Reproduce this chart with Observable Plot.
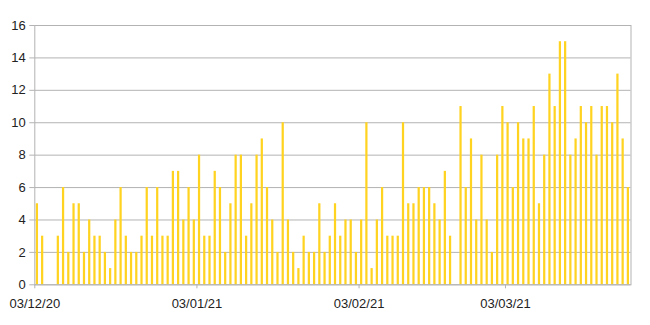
<!DOCTYPE html>
<html>
<head>
<meta charset="utf-8">
<script src="https://cdn.jsdelivr.net/npm/d3@7"></script>
<script src="https://cdn.jsdelivr.net/npm/@observablehq/plot@0.6"></script>
<style>
  html, body { margin: 0; padding: 0; background: #fff; }
</style>
</head>
<body>
<div id="chart"></div>
<script>
// Daily counts, 3 Dec 2020 – 26 Mar 2021
const decStart = "2020-12-03";
const decCounts = [5,3,0,0,3,6,2,5,5,2,4,3,3,2,1,4,6,3,2,2,3,6,3,6,3,3,7,7,4];
const janStart = "2021-01-01";
const janCounts = [6,4,8,3,3,7,6,2,5,8,8,3,5,8,9,6,4,2,10,4,2,1,3,2,2,5,2,3,5,3,4];
const febStart = "2021-02-01";
const febCounts = [4,2,4,10,1,4,6,3,3,3,10,5,5,6,6,6,5,4,7,3,0,11,6,9,4,8,4,2];
const marStart = "2021-03-01";
const marCounts = [8,11,10,6,10,9,9,11,5,8,13,11,15,15,8,9,11,10,11,8,11,11,10,13,9,6];

const xDomain = ["2020-12-03", "2021-03-27"];
const xTickDates = ["2020-12-03", "2021-01-03", "2021-02-03", "2021-03-03"];
const yTicks = [0, 2, 4, 6, 8, 10, 12, 14, 16];

const rows = [];
[[decStart, decCounts], [janStart, janCounts], [febStart, febCounts], [marStart, marCounts]]
  .forEach(([start, counts]) => {
    const s = new Date(start);
    counts.forEach((c, i) => {
      const d = d3.utcDay.offset(s, i);
      rows.push({date: d, next: d3.utcDay.offset(d, 1), count: c});
    });
  });

const chart = Plot.plot({
  width: 650,
  height: 325,
  marginLeft: 34.3,
  marginRight: 19.5,
  marginTop: 25,
  marginBottom: 40.7,
  style: {fontFamily: "'Liberation Sans', Arial, sans-serif", fontSize: "13px", color: "#222", background: "#fff"},
  x: {type: "utc", domain: xDomain.map(d => new Date(d))},
  y: {domain: [0, 16]},
  marks: [
    Plot.gridY(yTicks, {stroke: "#b3b3b3", strokeOpacity: 1}),
    Plot.rectY(rows.filter(r => r.count > 0), {x1: "date", x2: "next", y: "count", fill: "#ffd320", insetLeft: 1.5, insetRight: 1.5}),
    Plot.frame({stroke: "#b3b3b3"}),
    Plot.axisY(yTicks, {tickSize: 5, tickPadding: 4, stroke: "#b3b3b3", fill: "#222", label: null}),
    Plot.axisX(xTickDates.map(d => new Date(d)), {tickSize: 4, tickPadding: 10, tickFormat: d3.utcFormat("%d/%m/%y"), stroke: "#b3b3b3", fill: "#222", label: null})
  ]
});
document.getElementById("chart").appendChild(chart);
</script>
</body>
</html>
